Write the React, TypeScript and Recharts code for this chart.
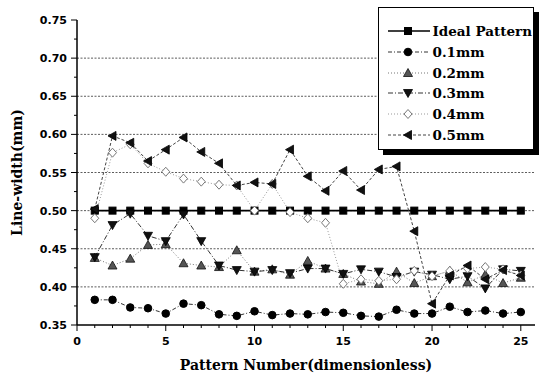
import { LineChart, Line, XAxis, YAxis, ReferenceLine, Label } from 'recharts'

// pattern numbers and measured line widths (mm)
const patterns = [1, 2, 3, 4, 5, 6, 7, 8, 9, 10, 11, 12, 13, 14, 15, 16, 17, 18, 19, 20, 21, 22, 23, 24, 25]
const ideal = [0.5, 0.5, 0.5, 0.5, 0.5, 0.5, 0.5, 0.5, 0.5, 0.5, 0.5, 0.5, 0.5, 0.5, 0.5, 0.5, 0.5, 0.5, 0.5, 0.5, 0.5, 0.5, 0.5, 0.5, 0.5]
const mm01 = [0.383, 0.383, 0.373, 0.372, 0.365, 0.378, 0.376, 0.364, 0.362, 0.368, 0.363, 0.365, 0.364, 0.367, 0.366, 0.362, 0.361, 0.37, 0.365, 0.365, 0.374, 0.367, 0.369, 0.365, 0.367]
const mm02 = [0.438, 0.428, 0.437, 0.455, 0.456, 0.431, 0.428, 0.426, 0.448, 0.42, 0.423, 0.416, 0.434, 0.424, 0.417, 0.407, 0.404, 0.42, 0.405, 0.414, 0.421, 0.406, 0.416, 0.405, 0.412]
const mm03 = [0.439, 0.481, 0.496, 0.467, 0.46, 0.495, 0.46, 0.428, 0.422, 0.42, 0.422, 0.418, 0.424, 0.424, 0.417, 0.423, 0.42, 0.413, 0.42, 0.416, 0.41, 0.414, 0.398, 0.423, 0.421]
const mm04 = [0.49, 0.576, 0.587, 0.562, 0.551, 0.542, 0.538, 0.534, 0.533, 0.5, 0.535, 0.498, 0.49, 0.484, 0.404, 0.41, 0.408, 0.41, 0.421, 0.414, 0.421, 0.424, 0.426, 0.423, 0.415]
const mm05 = [0.502, 0.598, 0.589, 0.565, 0.58, 0.596, 0.577, 0.562, 0.533, 0.537, 0.535, 0.58, 0.545, 0.526, 0.552, 0.527, 0.554, 0.558, 0.473, 0.378, 0.415, 0.428, 0.41, 0.422, 0.415]

const xTicks = [0, 1, 2, 3, 4, 5, 6, 7, 8, 9, 10, 11, 12, 13, 14, 15, 16, 17, 18, 19, 20, 21, 22, 23, 24, 25]
const yTicks = [0.35, 0.375, 0.4, 0.425, 0.45, 0.475, 0.5, 0.525, 0.55, 0.575, 0.6, 0.625, 0.65, 0.675, 0.7, 0.725, 0.75]
const gridValues = [0.4, 0.45, 0.5, 0.55, 0.6, 0.65, 0.7]

type Shape = 'square' | 'circle' | 'up' | 'down' | 'diamond' | 'left'

const series: { key: string; name: string; shape: Shape; stroke: string; width: number; dash?: string; fill: string; edge: string }[] = [
  { key: 'ideal', name: 'Ideal Pattern', shape: 'square', stroke: '#000', width: 1.6, fill: '#000', edge: '#000' },
  { key: 'mm01', name: '0.1mm', shape: 'circle', stroke: '#333', width: 1, dash: '4 2 1 2', fill: '#000', edge: '#000' },
  { key: 'mm02', name: '0.2mm', shape: 'up', stroke: '#777', width: 1, dash: '1 2', fill: '#555', edge: '#111' },
  { key: 'mm03', name: '0.3mm', shape: 'down', stroke: '#333', width: 1, dash: '5 2 1 2', fill: '#111', edge: '#000' },
  { key: 'mm04', name: '0.4mm', shape: 'diamond', stroke: '#999', width: 1, dash: '1 2', fill: '#fff', edge: '#777' },
  { key: 'mm05', name: '0.5mm', shape: 'left', stroke: '#444', width: 1, dash: '3 2', fill: '#111', edge: '#000' },
]

const rows = patterns.map((p, i) => ({
  p,
  ideal: ideal[i],
  mm01: mm01[i],
  mm02: mm02[i],
  mm03: mm03[i],
  mm04: mm04[i],
  mm05: mm05[i],
}))

function Marker({ cx, cy, shape, fill, edge }: { cx: number; cy: number; shape: Shape; fill: string; edge: string }) {
  if (cx == null || cy == null) return null
  const s = 4.5
  switch (shape) {
    case 'square':
      return <rect x={cx - 3.5} y={cy - 3.5} width={7} height={7} fill={fill} stroke={edge} />
    case 'circle':
      return <circle cx={cx} cy={cy} r={3.8} fill={fill} stroke={edge} />
    case 'up':
      return <polygon points={`${cx},${cy - s} ${cx + s},${cy + 3.5} ${cx - s},${cy + 3.5}`} fill={fill} stroke={edge} strokeWidth={0.8} />
    case 'down':
      return <polygon points={`${cx},${cy + s} ${cx + s},${cy - 3.5} ${cx - s},${cy - 3.5}`} fill={fill} stroke={edge} strokeWidth={0.8} />
    case 'diamond':
      return <polygon points={`${cx},${cy - s} ${cx + 4},${cy} ${cx},${cy + s} ${cx - 4},${cy}`} fill={fill} stroke={edge} strokeWidth={1} />
    default:
      return <polygon points={`${cx - s},${cy} ${cx + 3.5},${cy - s} ${cx + 3.5},${cy + s}`} fill={fill} stroke={edge} strokeWidth={0.8} />
  }
}

const tickFont = { fontFamily: 'DejaVu Sans', fontWeight: 700, fontSize: 11, fill: '#000' }
const titleFont = { fontFamily: 'DejaVu Serif', fontWeight: 700, fontSize: 14, fill: '#000' }

// eslint-disable-next-line @typescript-eslint/no-explicit-any
const BottomTick = (props: any) => {
  const { x, y, payload } = props
  const major = payload.value % 5 === 0
  return (
    <g>
      <line x1={x} x2={x} y1={y} y2={y + (major ? 6 : 3)} stroke="#000" />
      {major && (
        <text x={x} y={y + 20} textAnchor="middle" {...tickFont}>
          {payload.value}
        </text>
      )}
    </g>
  )
}

// eslint-disable-next-line @typescript-eslint/no-explicit-any
const TopTick = (props: any) => {
  const { x, y, payload } = props
  const major = payload.value % 5 === 0
  return <line x1={x} x2={x} y1={y} y2={y + (major ? 5 : 3)} stroke="#000" />
}

// eslint-disable-next-line @typescript-eslint/no-explicit-any
const LeftTick = (props: any) => {
  const { x, y, payload } = props
  const major = Math.round(payload.value * 1000) % 50 === 0
  return (
    <g>
      <line x1={x - (major ? 6 : 3)} x2={x} y1={y} y2={y} stroke="#000" />
      {major && (
        <text x={x - 10} y={y + 4} textAnchor="end" {...tickFont}>
          {payload.value.toFixed(2)}
        </text>
      )}
    </g>
  )
}

// eslint-disable-next-line @typescript-eslint/no-explicit-any
const RightTick = (props: any) => {
  const { x, y, payload } = props
  const major = Math.round(payload.value * 1000) % 50 === 0
  return <line x1={x} x2={x - (major ? 5 : 3)} y1={y} y2={y} stroke="#000" />
}

export default function App() {
  return (
    <div style={{ position: 'relative', width: 548, height: 375, background: '#fff' }}>
      <style>{'body{margin:0}'}</style>
      <LineChart width={548} height={375} data={rows} margin={{ top: 20, right: 13, bottom: 0, left: 0 }}>
        <XAxis
          dataKey="p"
          type="number"
          domain={[0, 25.8]}
          ticks={xTicks}
          interval={0}
          height={50}
          tickSize={0}
          tickMargin={0}
          tickLine={false}
          tick={<BottomTick />}
          axisLine={{ stroke: '#000', strokeWidth: 1.5 }}
        >
          <Label value="Pattern Number(dimensionless)" position="insideBottom" offset={5} style={titleFont} />
        </XAxis>
        <XAxis
          xAxisId="top"
          orientation="top"
          dataKey="p"
          type="number"
          domain={[0, 25.8]}
          ticks={xTicks}
          interval={0}
          height={0}
          tickSize={0}
          tickMargin={0}
          tickLine={false}
          tick={<TopTick />}
          axisLine={{ stroke: '#000', strokeWidth: 1.5 }}
        />
        <YAxis
          type="number"
          domain={[0.35, 0.75]}
          ticks={yTicks}
          interval={0}
          width={77}
          tickSize={0}
          tickMargin={0}
          tickLine={false}
          tick={<LeftTick />}
          axisLine={{ stroke: '#000', strokeWidth: 1.5 }}
        >
          <Label value="Line-width(mm)" angle={-90} position="insideLeft" offset={17} style={{ ...titleFont, textAnchor: 'middle' }} />
        </YAxis>
        <YAxis
          yAxisId="right"
          orientation="right"
          type="number"
          domain={[0.35, 0.75]}
          ticks={yTicks}
          interval={0}
          width={0}
          tickSize={0}
          tickMargin={0}
          tickLine={false}
          tick={<RightTick />}
          axisLine={{ stroke: '#000', strokeWidth: 1.5 }}
        />
        {gridValues.map((v) => (
          <ReferenceLine key={v} y={v} stroke="#333" strokeDasharray="2 1.5" strokeWidth={0.8} />
        ))}
        {series.map((s) => (
          <Line
            key={s.key}
            dataKey={s.key}
            name={s.name}
            stroke={s.stroke}
            strokeWidth={s.width}
            strokeDasharray={s.dash}
            isAnimationActive={false}
            // eslint-disable-next-line @typescript-eslint/no-explicit-any
            dot={(d: any) => <Marker key={`${s.key}-${d.index}`} cx={d.cx} cy={d.cy} shape={s.shape} fill={s.fill} edge={s.edge} />}
            activeDot={false}
          />
        ))}
      </LineChart>
      <div
        style={{
          position: 'absolute',
          left: 378,
          top: 7,
          width: 156,
          height: 143,
          boxSizing: 'border-box',
          border: '1.5px solid #000',
          boxShadow: '5px 5px 0 #000',
          background: '#fff',
          paddingTop: 13,
          paddingLeft: 8.5,
        }}
      >
        {series.map((s) => (
          <div key={s.key} style={{ display: 'flex', alignItems: 'center', height: 20.7 }}>
            <svg width={45} height={14}>
              <line x1={0} x2={42} y1={7} y2={7} stroke={s.stroke} strokeWidth={s.width} strokeDasharray={s.dash} />
              <Marker cx={20} cy={7} shape={s.shape} fill={s.fill} edge={s.edge} />
            </svg>
            <span style={{ fontFamily: 'DejaVu Serif', fontWeight: 700, fontSize: 13.5, lineHeight: '14px' }}>{s.name}</span>
          </div>
        ))}
      </div>
    </div>
  )
}
